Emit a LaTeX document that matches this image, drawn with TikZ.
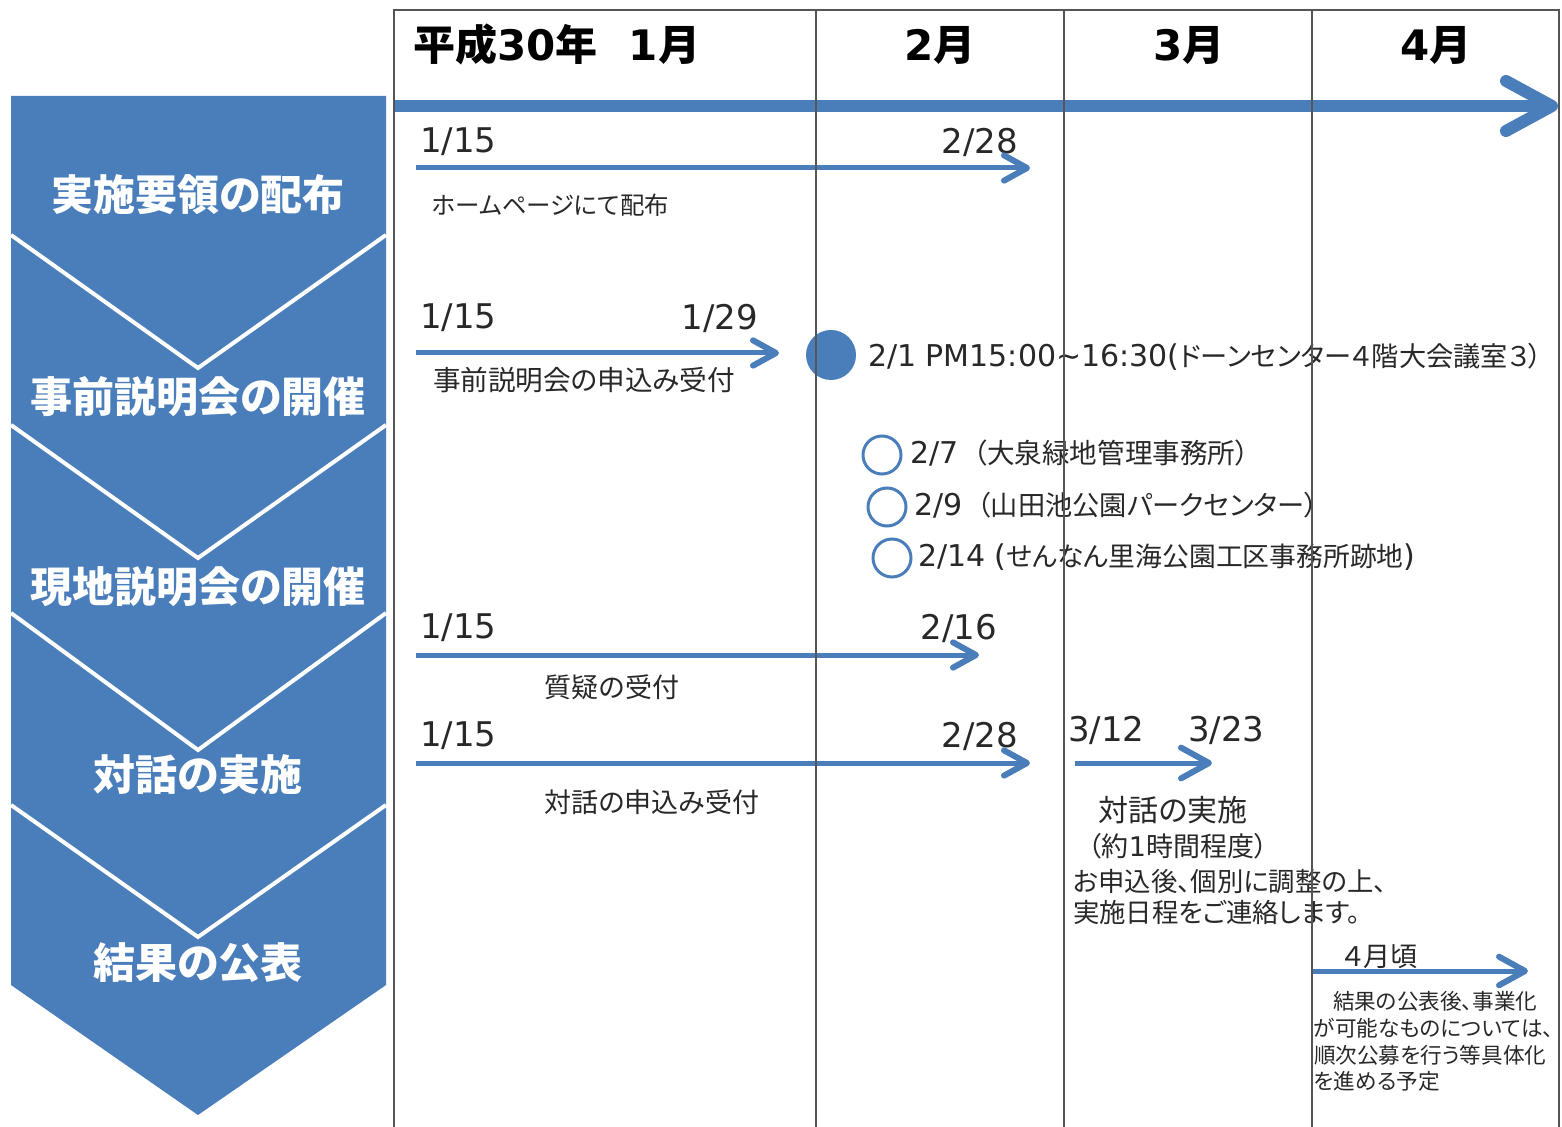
\documentclass[tikz,border=0pt]{standalone}
\usepackage{fontspec}
\setmainfont{Noto Sans CJK JP}[RawFeature=+palt]
\newfontfamily\dv{DejaVu Sans}
\definecolor{mblue}{RGB}{74,126,187}
\definecolor{gridc}{RGB}{85,85,85}
\definecolor{txt}{RGB}{40,40,40}
\newcommand\tarr[3]{%
  \draw[tline] (#1) -- ([xshift=-2pt]#2);
  \draw[thead] ([shift={(-#3,-0.55*#3)}]#2) -- (#2) -- ([shift={(-#3,0.55*#3)}]#2);
}
\begin{document}
\begin{tikzpicture}[x=0.5pt,y=-0.5pt,
  every node/.style={inner sep=0pt, outer sep=0pt},
  lbl/.style={text=white, font=\bfseries\fontsize{21}{25}\selectfont},
  mon/.style={text=black, font=\bfseries\fontsize{21}{25}\selectfont},
  dt/.style={text=txt, font=\dv\fontsize{17}{20}\selectfont},
  jt/.style={text=txt, font=\fontsize{13.5}{16}\selectfont},
  st/.style={text=txt, font=\fontsize{10.8}{13}\selectfont},
  gridline/.style={draw=gridc, line width=1pt},
  tline/.style={draw=mblue, line width=2.5pt},
  thead/.style={draw=mblue, line width=3pt, line cap=round, line join=round},
  vline/.style={draw=white, line width=2pt},
]
\fill[white] (0,0) rectangle (1562,1127);
\useasboundingbox (0,0) rectangle (1562,1127);

% left chevron column
\fill[mblue] (11,96) -- (386,96) -- (386,985) -- (198,1115) -- (11,985) -- cycle;
\draw[vline] (11,235) -- (198,368) -- (386,235);
\draw[vline] (11,425) -- (198,558) -- (386,425);
\draw[vline] (11,613) -- (198,750) -- (386,613);
\draw[vline] (11,805) -- (198,937) -- (386,805);
\node[lbl] (L1) at (198,195) {実施要領の配布};
\node[lbl] (L2) at (198,397) {事前説明会の開催};
\node[lbl] (L3) at (198,587) {現地説明会の開催};
\node[lbl] (L4) at (198,775) {対話の実施};
\node[lbl] (L5) at (198,963) {結果の公表};

% month headers
\node[mon, anchor=west] (H1) at (413,45) {平成{\dv 30}年\hspace{0.75em}{\dv 1}月};
\node[mon] (H2) at (940,45) {{\dv 2}月};
\node[mon] (H3) at (1189,45) {{\dv 3}月};
\node[mon] (H4) at (1436,45) {{\dv 4}月};

% main time arrow
\coordinate (M0) at (394,106);
\coordinate (M1) at (1552,106);
\draw[draw=mblue, line width=6pt] (M0) -- ([xshift=-4pt]M1);
\draw[draw=mblue, line width=6pt, line cap=round, line join=round]
  ([shift={(-46,-25)}]M1) -- (M1) -- ([shift={(-46,25)}]M1);

% row 1
\node[dt, anchor=west] (D1a) at (420,142) {1/15};
\node[dt, anchor=east] (D1b) at (1018,142) {2/28};
\coordinate (A1s) at (416,168); \coordinate (A1e) at (1027,168);
\tarr{A1s}{A1e}{23}
\node[st, anchor=west, font=\fontsize{12.2}{14}\selectfont] (T1) at (432,205) {ホームページにて配布};

% row 2
\node[dt, anchor=west] (D2a) at (420,318) {1/15};
\node[dt, anchor=east] (D2b) at (758,318) {1/29};
\coordinate (A2s) at (416,353); \coordinate (A2e) at (776,353);
\tarr{A2s}{A2e}{23}
\node[jt, anchor=west, font=\fontsize{13.8}{16}\selectfont] (T2) at (433,380) {事前説明会の申込み受付};
\node[circle, fill=mblue, minimum size=25pt] (C0) at (831,355) {};
\node[anchor=west, text=txt] (E0) at (868,357) {{\dv\fontsize{15}{18}\selectfont 2/1 PM15:00\textasciitilde16:30(}\fontsize{13.6}{16}\selectfont ドーンセンター４階大会議室３）};

% row 3 (site briefings)
\node[circle, draw=mblue, line width=1.5pt, minimum size=19pt] (C1) at (882,455) {};
\node[circle, draw=mblue, line width=1.5pt, minimum size=19pt] (C2) at (887,507) {};
\node[circle, draw=mblue, line width=1.5pt, minimum size=19pt] (C3) at (892,558) {};
\node[anchor=west, text=txt] (E1) at (910,453) {{\dv\fontsize{15}{18}\selectfont 2/7\enspace}\fontsize{13.8}{16}\selectfont （大泉緑地管理事務所）};
\node[anchor=west, text=txt] (E2) at (914,505) {{\dv\fontsize{15}{18}\selectfont 2/9\enspace}\fontsize{13.6}{16}\selectfont （山田池公園パークセンター）};
\node[anchor=west, text=txt] (E3) at (918,557) {{\dv\fontsize{15}{18}\selectfont 2/14 (}\fontsize{13.4}{16}\selectfont せんなん里海公園工区事務所跡地{\dv\fontsize{15}{18}\selectfont )}};

% row 4
\node[dt, anchor=west] (D4a) at (420,628) {1/15};
\node[dt, anchor=east] (D4b) at (997,628) {2/16};
\coordinate (A4s) at (416,655); \coordinate (A4e) at (976,655);
\tarr{A4s}{A4e}{23}
\node[jt] (T4) at (612,687) {質疑の受付};

% row 5
\node[dt, anchor=west] (D5a) at (420,736) {1/15};
\node[dt, anchor=east] (D5b) at (1018,736) {2/28};
\coordinate (A5s) at (416,763); \coordinate (A5e) at (1027,763);
\tarr{A5s}{A5e}{23}
\node[jt] (T5) at (652,802) {対話の申込み受付};
\node[dt, anchor=west] (D6a) at (1068,730) {3/12};
\node[dt, anchor=west] (D6b) at (1188,730) {3/23};
\coordinate (A6s) at (1075,763); \coordinate (A6e) at (1209,763);
\tarr{A6s}{A6e}{28}
\node[text=txt, font=\fontsize{15}{18}\selectfont] (T6) at (1173,810) {対話の実施};
\node[jt] (T7) at (1178,846) {（約{\dv 1}時間程度）};
\node[jt, anchor=west, font=\fontsize{13.2}{15}\selectfont] (T8) at (1073,882) {お申込後、個別に調整の上、};
\node[jt, anchor=west, font=\fontsize{13.2}{15}\selectfont] (T9) at (1073,912) {実施日程をご連絡します。};

% row 6
\node[jt, anchor=west] (T10) at (1343,957) {４月頃};
\coordinate (A7s) at (1313,971); \coordinate (A7e) at (1525,971);
\tarr{A7s}{A7e}{26}
\node[st, anchor=west] (R1) at (1318,1001) {\hspace{0.7em}結果の公表後、事業化};
\node[st, anchor=west] (R2) at (1314,1028) {が可能なものについては、};
\node[st, anchor=west] (R3) at (1314,1055) {順次公募を行う等具体化};
\node[st, anchor=west] (R4) at (1314,1081) {を進める予定};

% grid
\draw[gridline] (394,1127) -- (394,10) -- (1559,10) -- (1559,1127);
\draw[gridline] (816,10) -- (816,1127);
\draw[gridline] (1064,10) -- (1064,1127);
\draw[gridline] (1312,10) -- (1312,1127);
\end{tikzpicture}
\end{document}
